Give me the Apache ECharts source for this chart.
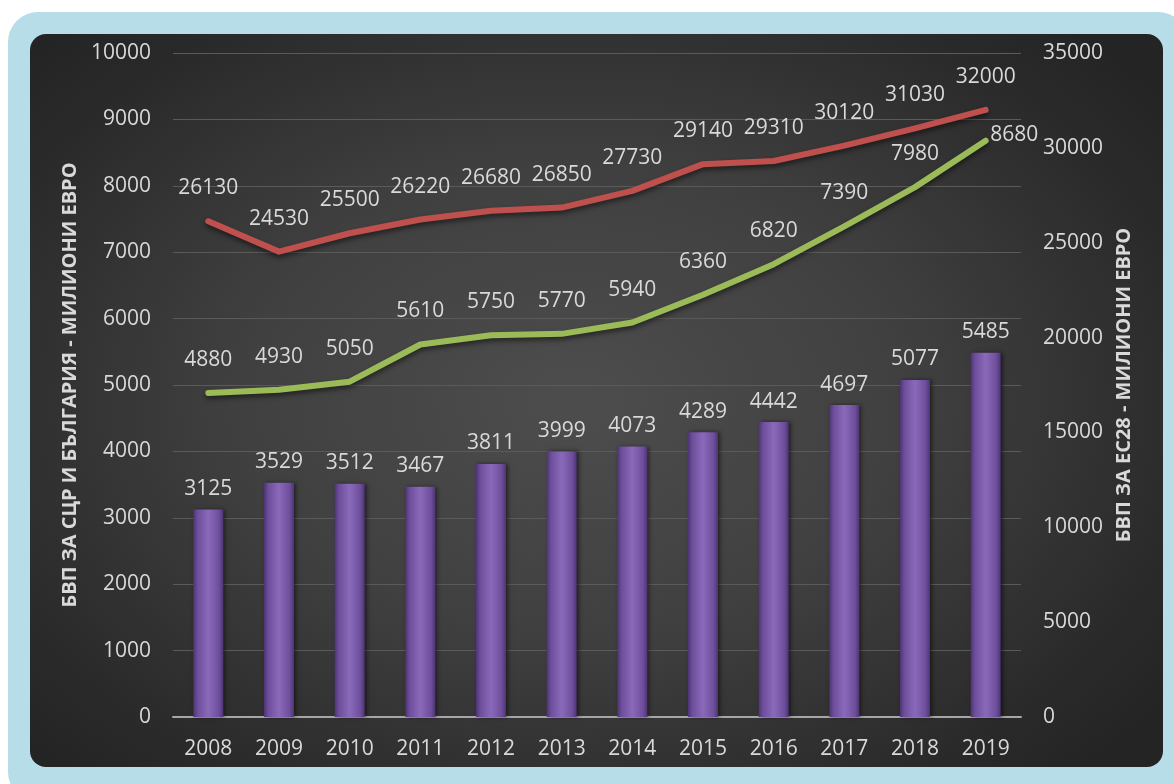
<!DOCTYPE html>
<html>
<head>
<meta charset="utf-8">
<script src="https://cdn.jsdelivr.net/npm/echarts@6/dist/echarts.min.js"></script>
<style>
  html, body { margin: 0; padding: 0; background: #ffffff; }
  #frame {
    position: absolute; left: 8px; top: 12px; width: 1180px; height: 790px;
    background: #b7dde8; border-radius: 30px;
  }
  #panel {
    position: absolute; left: 30px; top: 34px; width: 1133px; height: 733px;
    border-radius: 16px; overflow: hidden;
    background: radial-gradient(ellipse 65% 70% at 48% 50%, #4d4d4d 0%, #404040 45%, #2a2a2a 85%, #242424 100%);
  }
  #main { width: 1133px; height: 733px; }
</style>
</head>
<body>
<div id="frame"></div>
<div id="panel"><div id="main"></div></div>
<script>
var years = ['2008','2009','2010','2011','2012','2013','2014','2015','2016','2017','2018','2019'];
var gdpBgChina = [3125, 3529, 3512, 3467, 3811, 3999, 4073, 4289, 4442, 4697, 5077, 5485];
var gdpChina = [4880, 4930, 5050, 5610, 5750, 5770, 5940, 6360, 6820, 7390, 7980, 8680];
var gdpEu28 = [26130, 24530, 25500, 26220, 26680, 26850, 27730, 29140, 29310, 30120, 31030, 32000];

var txt = '#d9d9d9';
var font = '"Open Sans", sans-serif';

var myChart = echarts.init(document.getElementById('main'), null, {renderer: 'canvas'});

// зелената линия - последният етикет е вдясно
var greenData = gdpChina.map(function(v, i) {
    if (i === gdpChina.length - 1) {
        return {value: v, label: {position: 'right', distance: 4, offset: [0, -6]}};
    }
    return v;
});

function plain(v) { return String(v); }

var option = {
    backgroundColor: 'transparent',
    animation: false,
    textStyle: {fontFamily: font},
    grid: {left: 143, right: 142, top: 19, bottom: 50},
    xAxis: {
        type: 'category',
        data: years,
        axisLine: {lineStyle: {color: '#a6a6a6', width: 2}},
        axisTick: {show: false},
        axisLabel: {color: txt, fontSize: 21, margin: 22, fontFamily: font}
    },
    yAxis: [
        {
            type: 'value', min: 0, max: 10000, interval: 1000,
            name: 'БВП ЗА СЦР И БЪЛГАРИЯ - МИЛИОНИ ЕВРО',
            nameLocation: 'middle', nameGap: 91,
            nameTextStyle: {color: txt, fontSize: 20, fontWeight: 'bold', fontFamily: font},
            axisLine: {show: false},
            axisTick: {show: false},
            axisLabel: {color: txt, fontSize: 21, margin: 22, fontFamily: font, formatter: plain},
            splitLine: {lineStyle: {color: '#5a5a5a', width: 1}}
        },
        {
            type: 'value', min: 0, max: 35000, interval: 5000,
            name: 'БВП ЗА ЕС28 - МИЛИОНИ ЕВРО',
            nameLocation: 'middle', nameGap: 92,
            nameTextStyle: {color: txt, fontSize: 20, fontWeight: 'bold', fontFamily: font},
            axisLine: {show: false},
            axisTick: {show: false},
            axisLabel: {color: txt, fontSize: 21, margin: 22, fontFamily: font, formatter: plain},
            splitLine: {show: false}
        }
    ],
    series: [
        {
            name: 'БВП България',
            type: 'bar',
            yAxisIndex: 0,
            barWidth: 30,
            data: gdpBgChina,
            itemStyle: {
                color: new echarts.graphic.LinearGradient(0, 0, 1, 0, [
                    {offset: 0, color: '#4e3475'},
                    {offset: 0.15, color: '#6e4f9c'},
                    {offset: 0.5, color: '#8a69ba'},
                    {offset: 0.85, color: '#6e4f9c'},
                    {offset: 1, color: '#4e3475'}
                ]),
                shadowColor: 'rgba(0,0,0,0.5)', shadowBlur: 4, shadowOffsetX: 2
            },
            label: {show: true, position: 'top', distance: 10, color: txt, fontSize: 21, fontFamily: font}
        },
        {
            name: 'БВП СЦР',
            type: 'line',
            yAxisIndex: 0,
            data: greenData,
            symbol: 'circle',
            symbolSize: 1,
            showAllSymbol: true,
            lineStyle: {color: '#9bbb59', width: 6, cap: 'round', join: 'round',
                shadowColor: 'rgba(0,0,0,0.5)', shadowBlur: 5, shadowOffsetY: 3},
            itemStyle: {color: '#9bbb59'},
            label: {show: true, position: 'top', distance: 22, color: txt, fontSize: 21, fontFamily: font}
        },
        {
            name: 'БВП ЕС28',
            type: 'line',
            yAxisIndex: 1,
            data: gdpEu28,
            symbol: 'circle',
            symbolSize: 1,
            showAllSymbol: true,
            lineStyle: {color: '#c0504d', width: 6, cap: 'round', join: 'round',
                shadowColor: 'rgba(0,0,0,0.5)', shadowBlur: 5, shadowOffsetY: 3},
            itemStyle: {color: '#c0504d'},
            label: {show: true, position: 'top', distance: 22, color: txt, fontSize: 21, fontFamily: font}
        }
    ]
};

myChart.setOption(option);
</script>
</body>
</html>
